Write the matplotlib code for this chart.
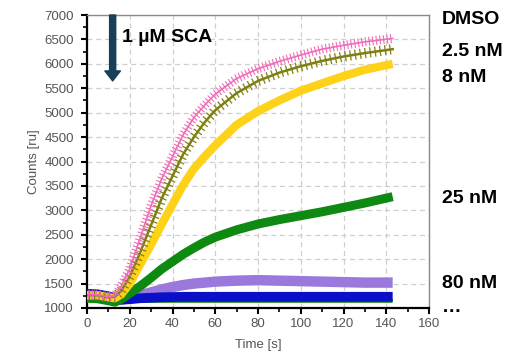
import matplotlib
matplotlib.use("Agg")
import matplotlib.pyplot as plt
import matplotlib.patheffects as pe
from matplotlib.ticker import MultipleLocator

## DATA

time_s = [0, 5, 10, 13, 16, 20, 25, 30, 35, 40, 45, 50, 55, 60, 70, 80, 90, 100, 110, 120, 130, 143]

dmso   = [1280, 1270, 1230, 1250, 1450, 1800, 2450, 3100, 3650, 4100, 4550, 4900, 5150, 5380, 5700, 5900, 6050, 6180, 6300, 6380, 6450, 6520]
nm_2_5 = [1260, 1260, 1220, 1230, 1350, 1650, 2150, 2700, 3250, 3700, 4150, 4500, 4800, 5050, 5400, 5650, 5820, 5950, 6060, 6150, 6220, 6300]
nm_8   = [1260, 1260, 1220, 1200, 1280, 1500, 1900, 2300, 2720, 3120, 3520, 3850, 4100, 4330, 4750, 5030, 5250, 5450, 5600, 5750, 5880, 6000]
nm_25  = [1200, 1190, 1150, 1120, 1180, 1300, 1450, 1620, 1800, 1950, 2100, 2230, 2350, 2450, 2600, 2720, 2810, 2890, 2970, 3060, 3150, 3280]
nm_80  = [1260, 1250, 1220, 1180, 1170, 1200, 1260, 1320, 1380, 1430, 1470, 1500, 1520, 1540, 1560, 1570, 1560, 1550, 1540, 1530, 1520, 1520]
nm_160 = [1290, 1280, 1240, 1200, 1170, 1180, 1200, 1210, 1220, 1225, 1230, 1230, 1230, 1230, 1230, 1230, 1230, 1230, 1230, 1230, 1230, 1230]
nm_500 = [1200, 1190, 1160, 1150, 1140, 1140, 1150, 1150, 1150, 1150, 1150, 1150, 1150, 1150, 1150, 1150, 1150, 1150, 1150, 1150, 1150, 1150]

labels = ["DMSO", "2.5 nM", "8 nM", "25 nM", "80 nM", "\u2026"]
label_ypix = [20, 51, 78, 199, 283, 308]

FIG_W : int = 524
FIG_H : int = 359

plt.rcParams['font.family'] = ['Liberation Sans', 'DejaVu Sans']

fig = plt.figure(figsize=(FIG_W / 100, FIG_H / 100), dpi=100)
ax = fig.add_axes([87 / FIG_W, 1 - 308 / FIG_H, (429 - 87) / FIG_W, (308 - 15) / FIG_H])

# thick noisy bands, bottom first
ax.plot(time_s, nm_500, color="#0a7a0a", lw=3, solid_capstyle="butt", zorder=2)
ax.plot(time_s, nm_80, color="#9a78dc", lw=7.5, solid_capstyle="butt", zorder=3)
ax.plot(time_s, nm_160, color="#0a10c8", lw=7, solid_capstyle="butt", zorder=4)
ax.plot(time_s, nm_25, color="#0e8a12", lw=6.5, solid_capstyle="butt", zorder=5)
ax.plot(time_s, nm_8, color="#ffd21a", lw=6, solid_capstyle="butt", zorder=6)

# ticked curves (look like error bars)
ticks_olive = [pe.TickedStroke(angle=90, spacing=3.6, length=0.9, linewidth=0.9),
               pe.withTickedStroke(angle=-90, spacing=3.6, length=0.9, linewidth=0.9)]
ax.plot(time_s, nm_2_5, color="#7f7f10", lw=1.8, zorder=7, path_effects=ticks_olive)

ticks_pink = [pe.TickedStroke(angle=90, spacing=2.6, length=1.1, linewidth=0.8),
              pe.withTickedStroke(angle=-90, spacing=2.6, length=1.1, linewidth=0.8)]
ax.plot(time_s, dmso, color="#f06cb8", lw=1.2, zorder=8, path_effects=ticks_pink)

ax.set_xlim(0, 160)
ax.set_ylim(1000, 7000)
ax.xaxis.set_major_locator(MultipleLocator(20))
ax.xaxis.set_minor_locator(MultipleLocator(10))
ax.yaxis.set_major_locator(MultipleLocator(500))
ax.yaxis.set_minor_locator(MultipleLocator(250))

ax.grid(True, which="major", color="#cfcfcf", linestyle=(0, (4, 3)), linewidth=0.9)
ax.set_axisbelow(True)

for side in ["top", "right"]:
	ax.spines[side].set_color("#8a8a8a")
	ax.spines[side].set_linewidth(1.0)
for side in ["left", "bottom"]:
	ax.spines[side].set_color("black")
	ax.spines[side].set_linewidth(1.6)

ax.tick_params(which="major", direction="out", length=4.5, width=1.5, color="black",
			   labelsize=9.5, labelcolor="#555555")
ax.tick_params(which="minor", direction="out", length=3, width=1.2, color="black")
ax.tick_params(axis="y", pad=5)
ax.tick_params(axis="x", pad=3)

ax.set_xlabel("Time [s]", fontsize=9.5, color="#555555", labelpad=6)
ax.set_ylabel("Counts [ru]", fontsize=9.5, color="#555555", labelpad=3)

# injection arrow
ax.annotate("", xy=(12, 5650), xytext=(12, 7000),
			arrowprops=dict(arrowstyle="simple,head_width=1.4,head_length=0.9,tail_width=0.55",
							color="#173f58", mutation_scale=8, shrinkA=0, shrinkB=0),
			zorder=9)
ax.text(16.3, 6530, "1 \u00b5M SCA", fontsize=14, fontweight="bold", va="center", ha="left", zorder=10)

for txt, ypix in zip(labels, label_ypix):
	fig.text(442 / FIG_W, 1 - ypix / FIG_H, txt, fontsize=14, fontweight="bold",
			 va="center", ha="left")

fig.savefig("out.png", dpi=100)
